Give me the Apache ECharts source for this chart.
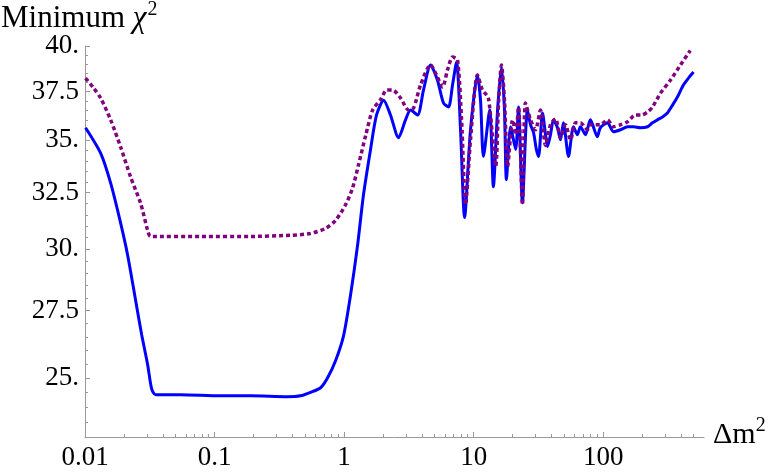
<!DOCTYPE html>
<html>
<head>
<meta charset="utf-8">
<script src="https://cdn.jsdelivr.net/npm/echarts@6/dist/echarts.min.js"></script>
<style>
    html, body { margin: 0; padding: 0; background: #fff; }
    #chart { width: 774px; height: 475px; }
</style>
</head>
<body>
<div id="chart"></div>
<script>
// Δm² values and minimum χ²
const blueM2 = [0.0101, 0.0132, 0.01578, 0.01886, 0.02136, 0.0246, 0.02739, 0.0305, 0.0327, 0.0351,
    0.0547, 0.111, 0.19, 0.366, 0.461, 0.551, 0.659, 0.746, 0.859, 0.991, 1.12, 1.27, 1.41, 1.6, 1.78, 2.02,
    2.28, 2.63, 2.98, 3.26, 3.69, 4.1, 4.65, 5.25, 5.85, 6.4, 6.87, 7.38, 7.92, 8.51, 9.46, 10.7, 11.3, 11.9,
    13.3, 14.2, 15.3, 16.4, 17.3, 17.9, 19.3, 21.1, 22.2, 23.8, 26.0, 27.5, 29.0, 30.5, 31.7, 34.0, 35.9, 37.2,
    39.2, 41.3, 44.4, 46.8, 49.3, 54.0, 58.9, 63.2, 66.7, 73, 79.6, 90.2, 95, 108, 120, 136, 154, 171, 194,
    220, 240, 262, 287, 313, 343, 374, 416, 455, 498];
const blueChi2 = [35.63, 34.37, 32.94, 31.12, 29.74, 27.9, 26.58, 25.46, 24.62, 24.42,
    24.42, 24.38, 24.38, 24.35, 24.38, 24.5, 24.66, 25.01, 25.62, 26.55, 28.1, 30.16, 32.38, 34.55, 36.28, 37.05,
    36.28, 35.13, 36.03, 36.53, 36.28, 37.58, 38.94, 38.12, 36.9, 36.69, 37.85, 39.11, 35.53, 31.38, 35.53, 38.39, 37.05, 34.21,
    36.53, 32.78, 36.53, 38.83, 36.53, 33.1, 35.68, 34.55, 36.69, 32.04, 36.53, 35.78, 35.38, 34.55, 34.21, 36.38, 35.28, 34.7,
    35.28, 36.03, 35.63, 35.03, 35.88, 34.21, 35.68, 35.28, 35.68, 35.28, 36.03, 35.18, 35.63, 35.88, 35.43, 35.53, 35.68, 35.68, 35.63,
    35.68, 35.88, 36.03, 36.18, 36.38, 36.79, 37.21, 37.85, 38.22, 38.55];

const purpleM2 = [0.0101, 0.01167, 0.0132, 0.01578, 0.01886, 0.02253, 0.0269, 0.03046, 0.0321,
    0.0782, 0.19, 0.386, 0.551, 0.72, 0.859, 1.026, 1.16, 1.29, 1.47, 1.66, 1.92, 2.13, 2.37, 2.73, 3.15, 3.44,
    3.89, 4.65, 5.17, 5.76, 6.28, 6.87, 7.51, 8.07, 8.66, 9.46, 10.7, 11.7, 13.0, 14.8, 15.6, 16.4, 17.3, 18.3,
    20.0, 21.1, 22.2, 23.8, 25.1, 27.5, 30.0, 32.8, 35.9, 39.2, 42.9, 46.8, 51.2, 56.0, 61.1, 66.7, 75.6, 79.6,
    95, 108, 120, 136, 154, 177, 198, 220, 240, 277, 331, 395, 470];
const purpleChi2 = [38.22, 37.69, 37.16, 36.03, 34.66, 33.22, 32.01, 30.81, 30.55,
    30.55, 30.55, 30.6, 30.68, 30.9, 31.25, 31.95, 32.7, 33.79, 35.26, 36.53, 37.1, 37.58, 37.58, 37.16, 36.53, 36.64,
    37.85, 38.94, 38.39, 37.74, 38.66, 39.38, 39.22, 36.03, 31.95, 35.03, 38.39, 37.58, 37.16, 33.73, 37.05, 38.94, 37.05, 33.73,
    36.03, 35.28, 36.69, 31.95, 36.9, 36.03, 35.53, 36.53, 34.75, 35.78, 36.08, 35.13, 35.78, 35.03, 35.88, 35.88, 35.53, 35.78,
    35.78, 36.03, 35.68, 35.78, 35.93, 36.28, 36.28, 36.43, 36.69, 37.42, 38.12, 38.94, 39.75];

// tick values
const xLabelTicks = [0.01, 0.1, 1, 10, 100];
const xMinorTicks = [0.02, 0.03, 0.04, 0.05, 0.06, 0.07, 0.08, 0.09, 0.2, 0.3, 0.4, 0.5, 0.6, 0.7, 0.8, 0.9,
    2, 3, 4, 5, 6, 7, 8, 9, 20, 30, 40, 50, 60, 70, 80, 90, 200, 300, 400, 500];
const yLabelTicks = [25, 27.5, 30, 32.5, 35, 37.5, 40];
const yMinorTicks = [23.5, 24, 24.5, 25.5, 26, 26.5, 27, 28, 28.5, 29, 29.5, 30.5, 31, 31.5, 32, 33, 33.5, 34, 34.5,
    35.5, 36, 36.5, 37, 38, 38.5, 39, 39.5];

function pairs(xs, ys) {
    return xs.map(function (x, i) { return [x, ys[i]]; });
}

const font = "'Liberation Serif', 'Times New Roman', serif";
const axisGray = "#999";

function xAxisDef(major) {
    return {
        type: "log",
        logBase: 10,
        min: 0.01,
        max: 600,
        position: "bottom",
        axisLine: { show: major, onZero: false, lineStyle: { color: axisGray, width: 1 } },
        axisTick: {
            show: true,
            inside: true,
            length: major ? 5 : 3,
            customValues: major ? xLabelTicks : xMinorTicks,
            lineStyle: { color: axisGray, width: 1 }
        },
        axisLabel: {
            show: major,
            customValues: xLabelTicks,
            margin: 7,
            color: "#000",
            fontFamily: font,
            fontSize: 27,
            formatter: function (v) { return String(+(+v).toPrecision(3)); }
        },
        splitLine: { show: false },
        minorTick: { show: false }
    };
}

function yAxisDef(major) {
    return {
        type: "log",
        logBase: 10,
        min: 23,
        max: 40,
        position: "left",
        axisLine: { show: major, onZero: false, lineStyle: { color: axisGray, width: 1 } },
        axisTick: {
            show: true,
            inside: true,
            length: major ? 5 : 3,
            customValues: major ? yLabelTicks : yMinorTicks,
            lineStyle: { color: axisGray, width: 1 }
        },
        axisLabel: {
            show: major,
            customValues: yLabelTicks,
            margin: 6,
            color: "#000",
            fontFamily: font,
            fontSize: 27,
            formatter: function (v) {
                let r = Math.round(v * 10) / 10;
                return Number.isInteger(r) ? r + "." : String(r);
            }
        },
        splitLine: { show: false },
        minorTick: { show: false }
    };
}

let chart = echarts.init(document.getElementById("chart"));
let option = {
    animation: false,
    backgroundColor: "#fff",
    grid: {
        left: 85,
        right: 70,
        top: 46,
        bottom: 38,
        containLabel: false,
        outerBoundsMode: "none"
    },
    xAxis: [xAxisDef(true), xAxisDef(false)],
    yAxis: [yAxisDef(true), yAxisDef(false)],
    graphic: [
        {
            type: "text",
            left: 1,
            top: 0,
            style: {
                text: "{a|Minimum }{b|χ}{s|2}",
                rich: {
                    a: { fontFamily: font, fontSize: 31, fill: "#000", verticalAlign: "bottom" },
                    b: { fontFamily: font, fontSize: 31, fontStyle: "italic", fill: "#000", verticalAlign: "bottom" },
                    s: { fontFamily: font, fontSize: 20, fill: "#000", verticalAlign: "top", padding: [0, 0, 14, 1] }
                }
            }
        },
        {
            type: "text",
            left: 713,
            top: 416,
            style: {
                text: "{a|Δm}{s|2}",
                rich: {
                    a: { fontFamily: font, fontSize: 30, fill: "#000", verticalAlign: "bottom" },
                    s: { fontFamily: font, fontSize: 20, fill: "#000", verticalAlign: "top", padding: [0, 0, 14, 0] }
                }
            }
        }
    ],
    series: [
        {
            type: "line",
            name: "blue",
            xAxisIndex: 0,
            yAxisIndex: 0,
            data: pairs(blueM2, blueChi2),
            smooth: 0.25,
            showSymbol: false,
            lineStyle: { color: "#0000ff", width: 3 },
            z: 3
        },
        {
            type: "line",
            name: "purple",
            xAxisIndex: 0,
            yAxisIndex: 0,
            data: pairs(purpleM2, purpleChi2),
            smooth: 0.25,
            showSymbol: false,
            lineStyle: { color: "#800080", width: 3.5, type: [4, 3], cap: "butt" },
            z: 4
        }
    ]
};
chart.setOption(option, true);
</script>
</body>
</html>
